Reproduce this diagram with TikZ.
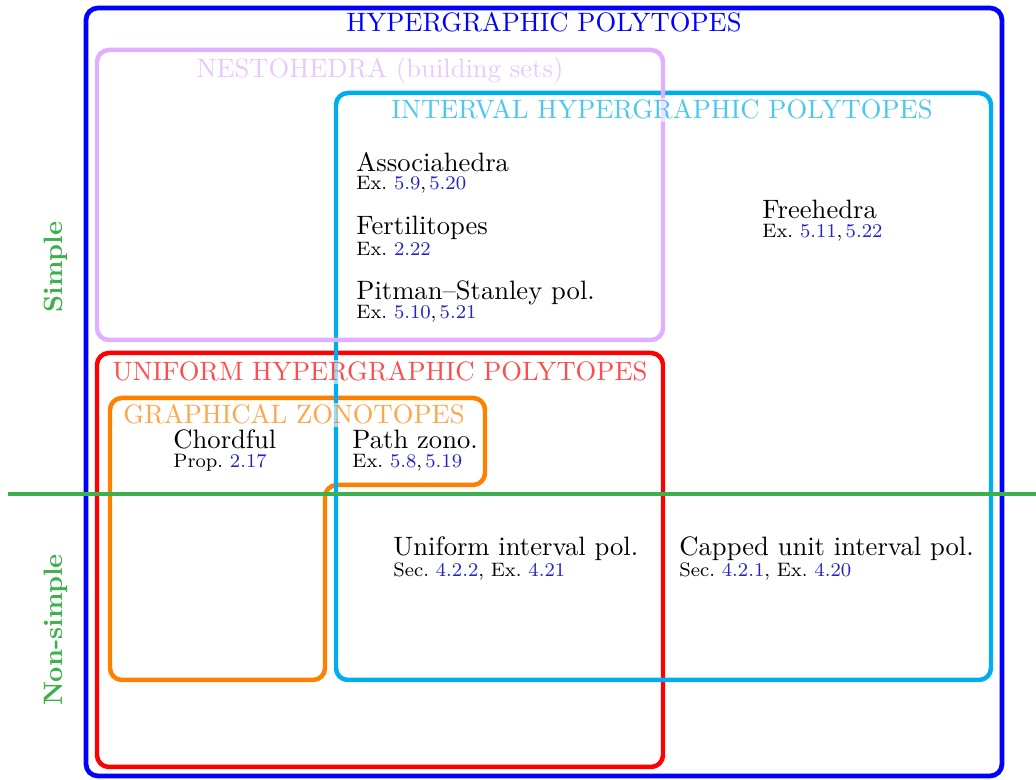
\documentclass[tikz,border=0pt]{standalone}
\usepackage{xcolor}
\definecolor{hyperblue}{RGB}{0,0,255}
\definecolor{nestocol}{RGB}{224,176,255}
\definecolor{intervalcol}{RGB}{0,174,239}
\definecolor{uniformcol}{RGB}{255,0,0}
\definecolor{zonocol}{RGB}{255,128,0}
\definecolor{splitgreen}{RGB}{60,176,74}
\definecolor{linkcol}{RGB}{35,35,200}
\newcommand{\lnk}[1]{\textcolor{linkcol}{#1}}
\newcommand{\mainsize}{\fontsize{10.95}{13.6}\selectfont}
\newcommand{\refsize}{\fontsize{8}{9.5}\selectfont}
\begin{document}
\begin{tikzpicture}[x=0.4117pt,y=-0.4117pt,
  every node/.style={font=\mainsize},
  region/.style={line width=1.85pt, rounded corners=4.9pt},
  regiontitle/.style={anchor=base, inner sep=1pt, fill=white, fill opacity=0.6, text opacity=0.7},
  family/.style={anchor=base west, inner sep=0pt},
  refs/.style={anchor=base west, inner sep=0pt, font=\refsize},
  sidelabel/.style={rotate=90, text=splitgreen, font=\mainsize\bfseries}]
\useasboundingbox (0,0) rectangle (1036,780);

% nested regions
\draw[region, hyperblue, line width=1.95pt] (86,8) rectangle (1002,776);
\draw[region, uniformcol] (97,353) rectangle (663,767);
\draw[region, zonocol] (110,398) -- (485,398) -- (485,485) -- (325,485) -- (325,680) -- (110,680) -- cycle;
\draw[region, intervalcol] (336,93) rectangle (991,680);
\draw[region, nestocol] (97,50) rectangle (663,340);

% region titles
\node[anchor=base, inner sep=1pt, text=hyperblue] (thyper) at (544,32) {HYPERGRAPHIC POLYTOPES};
\node[regiontitle, text=nestocol] (tnesto) at (380,78) {NESTOHEDRA (building sets)};
\node[regiontitle, text=intervalcol] (tinterval) at (662,119) {INTERVAL HYPERGRAPHIC POLYTOPES};
\node[regiontitle, text=uniformcol] (tuniform) at (380,381) {UNIFORM HYPERGRAPHIC POLYTOPES};
\node[regiontitle, text=zonocol] (tzono) at (294,424) {GRAPHICAL ZONOTOPES};

% families with references
\node[family] (assoc) at (356,172) {Associahedra};
\node[refs] (assocref) at (356,190) {Ex.~\lnk{5.9},\,\lnk{5.20}};
\node[family] (fert) at (356,235) {Fertilitopes};
\node[refs] (fertref) at (356,256) {Ex.~\lnk{2.22}};
\node[family] (pitman) at (356,300) {Pitman--Stanley pol.};
\node[refs] (pitmanref) at (356,319) {Ex.~\lnk{5.10},\,\lnk{5.21}};
\node[family] (free) at (762,219) {Freehedra};
\node[refs] (freeref) at (762,238) {Ex.~\lnk{5.11},\,\lnk{5.22}};
\node[family] (chord) at (173,449) {Chordful};
\node[refs] (chordref) at (173,468) {Prop.~\lnk{2.17}};
\node[family] (path) at (352,449) {Path zono.};
\node[refs] (pathref) at (352,468) {Ex.~\lnk{5.8},\,\lnk{5.19}};
\node[family] (unif) at (393,556) {Uniform interval pol.};
\node[refs] (unifref) at (393,577) {Sec.~\lnk{4.2.2}, Ex.~\lnk{4.21}};
\node[family] (capped) at (679,556) {Capped unit interval pol.};
\node[refs] (cappedref) at (679,577) {Sec.~\lnk{4.2.1}, Ex.~\lnk{4.20}};

% simple / non-simple split
\coordinate (splitL) at (8,494);
\coordinate (splitR) at (1036,494);
\draw[splitgreen, line width=1.6pt] (splitL) -- (splitR);
\node[sidelabel] (simple) at (56,267) {Simple};
\node[sidelabel] (nonsimple) at (56,630) {Non-simple};
\end{tikzpicture}
\end{document}
